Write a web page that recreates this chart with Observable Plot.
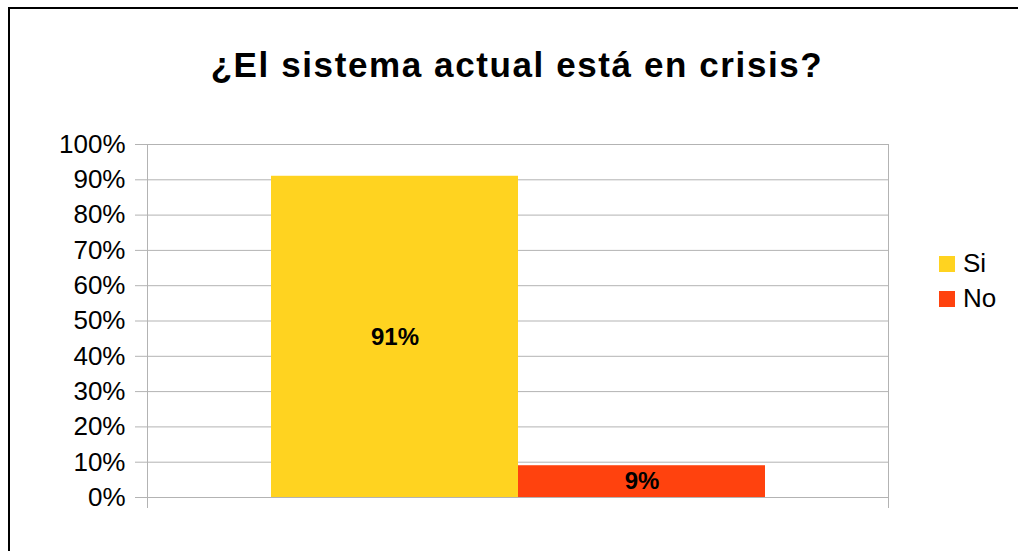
<!DOCTYPE html>
<html>
<head>
<meta charset="utf-8">
<script src="https://cdn.jsdelivr.net/npm/d3@7"></script>
<script src="https://cdn.jsdelivr.net/npm/@observablehq/plot@0.6"></script>
<style>
  html, body { margin: 0; padding: 0; background: #fff; }
  #wrap { position: relative; width: 1018px; height: 551px; overflow: hidden; font-family: "Liberation Sans", Arial, sans-serif; }
  #border { position: absolute; left: 8px; top: 7px; width: 1200px; height: 800px; border-left: 2px solid #000; border-top: 2px solid #000; }
  #title { position: absolute; left: 0; top: 0; width: 1034px; height: 110px; text-align: center; font-weight: bold; font-size: 35px; letter-spacing: 1.6px; line-height: 130px; color: #000; }
  #chart { position: absolute; left: 0; top: 110px; }
  #legend { position: absolute; left: 939px; top: 246px; font-size: 26px; color: #000; }
  .item { display: flex; align-items: center; height: 35px; }
  .sw { width: 16px; height: 16px; margin-right: 8px; }
  #chart svg g[aria-label="y-axis tick"] path { stroke: #b3b3b3; }
</style>
</head>
<body>
<div id="wrap">
  <div id="border"></div>
  <div id="title">¿El sistema actual está en crisis?</div>
  <div id="chart"></div>
  <div id="legend"></div>
</div>
<script>
const categories = ["Si", "No"];
const values = [0.91, 0.09];
const colors = ["#FFD320", "#FF420E"];
const yTicks = [0, 0.1, 0.2, 0.3, 0.4, 0.5, 0.6, 0.7, 0.8, 0.9, 1.0];

const data = categories.map((c, i) => ({answer: c, value: values[i]}));
const W = 1018, H = 441;
const mL = 147, mR = 130, mT = 34, mB = 54;

const chart = Plot.plot({
  width: W,
  height: H,
  marginLeft: mL,
  marginRight: mR,
  marginTop: mT,
  marginBottom: mB,
  style: {fontFamily: "Liberation Sans, Arial, sans-serif", background: "transparent", overflow: "visible"},
  x: {domain: categories, paddingInner: 0, paddingOuter: 0.5, axis: null},
  y: {domain: [0, 1]},
  color: {domain: categories, range: colors},
  marks: [
    Plot.gridY(yTicks, {stroke: "#b3b3b3", strokeOpacity: 1, strokeWidth: 1}),
    Plot.axisY(yTicks, {tickSize: 12, tickPadding: 10, tickFormat: d3.format(".0%"), fontSize: 26, fill: "#000", stroke: "#b3b3b3", label: null}),
    Plot.frame({stroke: "#b3b3b3", strokeWidth: 1}),
    Plot.barY(data, {x: "answer", y: "value", fill: "answer", insetLeft: 0, insetRight: 0}),
    Plot.text(data, {x: "answer", y: d => d.value / 2, text: d => d3.format(".0%")(d.value), fontSize: 24, fontWeight: "bold", fill: "#000"})
  ]
});
document.getElementById("chart").appendChild(chart);

// category-axis boundary ticks extending below the plot area
const svg = d3.select(chart.tagName === "svg" ? chart : chart.querySelector("svg"));
[mL, W - mR].forEach(x => {
  svg.append("line")
    .attr("x1", x + 0.5).attr("x2", x + 0.5)
    .attr("y1", H - mB).attr("y2", H - mB + 11)
    .attr("stroke", "#b3b3b3");
});

const legend = d3.select("#legend");
categories.forEach((c, i) => {
  const it = legend.append("div").attr("class", "item");
  it.append("div").attr("class", "sw").style("background", colors[i]);
  it.append("span").text(c);
});
</script>
</body>
</html>
